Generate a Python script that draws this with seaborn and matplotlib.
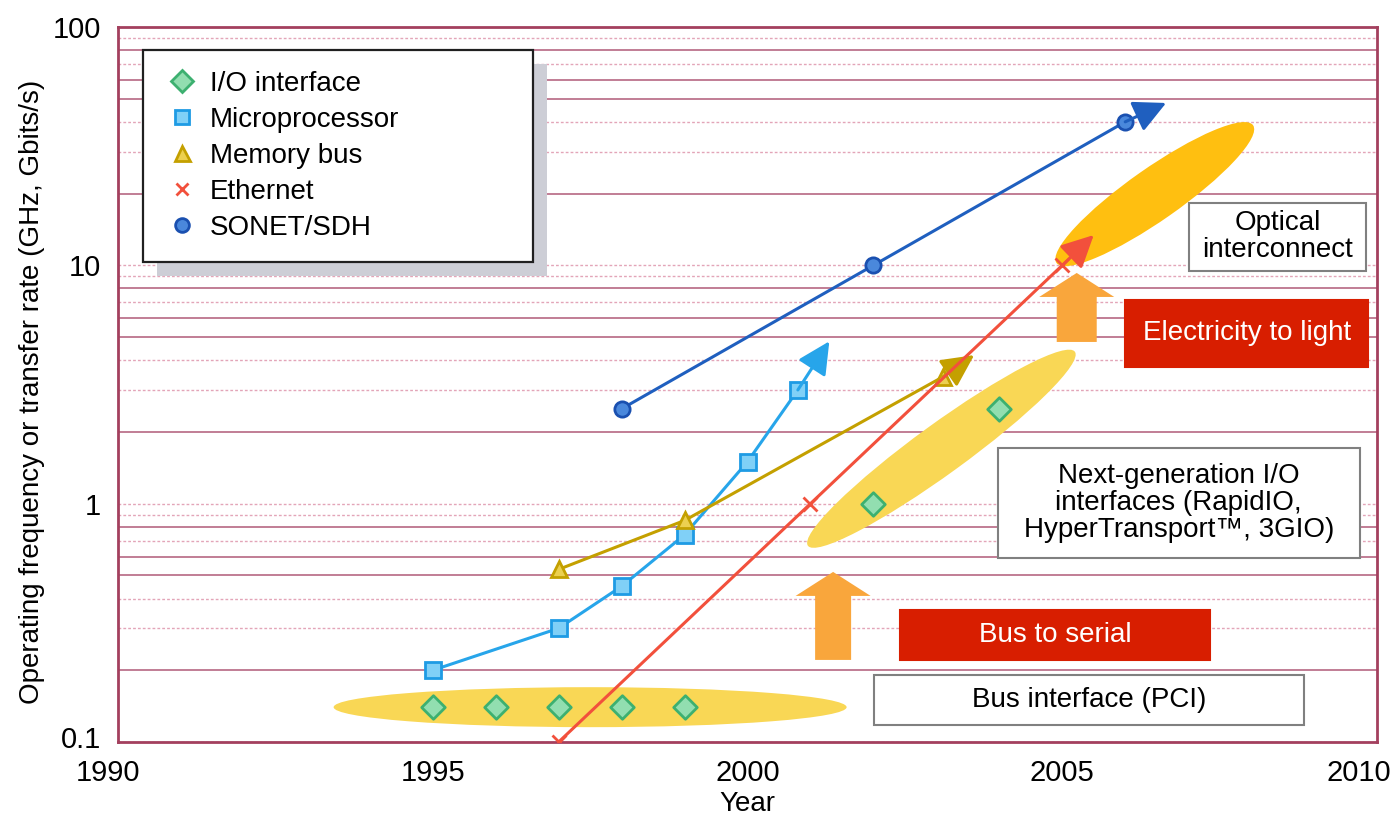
import pandas as pd
import seaborn as sns
import matplotlib.pyplot as plt
import matplotlib.transforms as mtransforms
from matplotlib.patches import Ellipse, Rectangle, FancyArrow
from matplotlib.lines import Line2D

sns.set_style("white")
plt.rcParams["font.family"] = ["Liberation Sans", "DejaVu Sans"]
plt.rcParams["text.color"] = "black"
plt.rcParams["axes.labelcolor"] = "black"

# ---- values ----
io_year = [1995, 1996, 1997, 1998, 1999, 2002, 2004]
io_rate = [0.14, 0.14, 0.14, 0.14, 0.14, 1.0, 2.5]

cpu_year = [1995, 1997, 1998, 1999, 2000, 2000.8]
cpu_rate = [0.2, 0.3, 0.45, 0.74, 1.5, 3.0]

mem_year = [1997, 1999, 2003.1]
mem_rate = [0.53, 0.85, 3.4]

eth_year = [1997, 2001, 2005]
eth_rate = [0.1, 1.0, 10.0]

sonet_year = [1998, 2002, 2006]
sonet_rate = [2.5, 10.0, 40.0]

# end points of the trend arrows
tip_year = {"Microprocessor": 2001.3, "Memory bus": 2003.6, "Ethernet": 2005.5, "SONET/SDH": 2006.65}
tip_rate = {"Microprocessor": 4.8, "Memory bus": 4.2, "Ethernet": 13.4, "SONET/SDH": 48.0}

lines = pd.concat([
    pd.DataFrame({"year": cpu_year, "rate": cpu_rate, "series": "Microprocessor"}),
    pd.DataFrame({"year": mem_year, "rate": mem_rate, "series": "Memory bus"}),
    pd.DataFrame({"year": eth_year, "rate": eth_rate, "series": "Ethernet"}),
    pd.DataFrame({"year": sonet_year, "rate": sonet_rate, "series": "SONET/SDH"}),
])

style = {
    "I/O interface": dict(color="#3db070", marker="D", mfc="#92deb0", mec="#3db070", ms=12),
    "Microprocessor": dict(color="#27a5ea", marker="s", mfc="#80d0f7", mec="#1e9be4", ms=11),
    "Memory bus": dict(color="#c4a000", marker="^", mfc="#ecd050", mec="#c4a000", ms=12),
    "Ethernet": dict(color="#f2503c", marker="x", mfc="#f2503c", mec="#f2503c", ms=10),
    "SONET/SDH": dict(color="#1f5fbf", marker="o", mfc="#4a88dc", mec="#1a50b0", ms=11),
}

fig = plt.figure(figsize=(13.96, 8.17), dpi=100)
ax = fig.add_axes([118 / 1396, 1 - 742 / 817, 1259 / 1396, 715 / 817])
ax.set_yscale("log")
ax.set_xlim(1990, 2010)
ax.set_ylim(0.1, 100)

# horizontal grid, mixed solid / dotted like the original
for dec in [0.1, 1, 10]:
    for m in range(1, 10):
        if m in (2, 5, 6, 8):
            ax.axhline(dec * m, color="#b05a78", lw=1.1, zorder=0.5)
        else:
            ax.axhline(dec * m, color="#e3a5b8", lw=1.0, ls=(0, (2, 1.5)), zorder=0.5)


def at(x, y):
    # inch-based transform anchored on a data point
    return fig.dpi_scale_trans + mtransforms.ScaledTranslation(x, y, ax.transData)


# yellow highlight ellipses
ax.add_patch(Ellipse((0, 0), 5.13, 0.40, angle=0, transform=at(1997.5, 0.14),
                     color="#f9d755", zorder=1.5, lw=0))
ax.add_patch(Ellipse((0, 0), 3.30, 0.50, angle=36, transform=at(2003.08, 1.70),
                     color="#f9d755", zorder=1.5, lw=0))
ax.add_patch(Ellipse((0, 0), 2.40, 0.52, angle=35, transform=at(2006.47, 19.9),
                     color="#ffbf10", zorder=1.5, lw=0))

# orange "step" arrows
ax.add_patch(FancyArrow(0, 0, 0, 0.88, width=0.36, head_width=0.75, head_length=0.24,
                        length_includes_head=True, transform=at(2001.36, 0.221),
                        color="#f9a63c", lw=0, zorder=2))
ax.add_patch(FancyArrow(0, 0, 0, 0.69, width=0.40, head_width=0.75, head_length=0.24,
                        length_includes_head=True, transform=at(2005.23, 4.77),
                        color="#f9a63c", lw=0, zorder=2))

# series lines with trend arrows
for name, grp in lines.groupby("series", sort=False):
    st = style[name]
    sns.lineplot(data=grp, x="year", y="rate", ax=ax, color=st["color"], lw=2.2,
                 marker=st["marker"], markersize=st["ms"], markerfacecolor=st["mfc"],
                 markeredgecolor=st["mec"], markeredgewidth=2, legend=False, zorder=3)
    ax.annotate("", xy=(tip_year[name], tip_rate[name]),
                xytext=(grp["year"].iloc[-1], grp["rate"].iloc[-1]),
                arrowprops=dict(arrowstyle="-|>,head_length=0.9,head_width=0.45",
                                color=st["color"], lw=2.2, shrinkA=0, shrinkB=0,
                                mutation_scale=22), zorder=3)

st = style["I/O interface"]
sns.scatterplot(x=io_year, y=io_rate, ax=ax, marker="D", s=st["ms"] ** 2,
                color=st["mfc"], edgecolor=st["mec"], linewidth=2, zorder=4, legend=False)


# annotation boxes
def box(x, y, w, h, text, face, edge, tcolor):
    ax.add_patch(Rectangle((-w / 2, -h / 2), w, h, transform=at(x, y), facecolor=face,
                           edgecolor=edge, lw=1.5, zorder=3.5))
    ax.text(x, y, text, ha="center", va="center", color=tcolor, fontsize=20,
            linespacing=1.05, zorder=3.6)


box(2008.42, 13.2, 1.77, 0.68, "Optical\ninterconnect", "white", "#808080", "black")
box(2007.93, 5.18, 2.43, 0.67, "Electricity to light", "#d81e00", "#d81e00", "white")
box(2006.85, 1.01, 3.62, 1.10, "Next-generation I/O\ninterfaces (RapidIO,\nHyperTransport™, 3GIO)",
    "white", "#808080", "black")
box(2004.89, 0.281, 3.10, 0.50, "Bus to serial", "#d81e00", "#d81e00", "white")
box(2005.42, 0.150, 4.30, 0.50, "Bus interface (PCI)", "white", "#808080", "black")

# legend
order = ["I/O interface", "Microprocessor", "Memory bus", "Ethernet", "SONET/SDH"]
handles = [Line2D([], [], ls="none", marker=style[n]["marker"], markersize=style[n]["ms"] * 0.9,
                  markerfacecolor=style[n]["mfc"], markeredgecolor=style[n]["mec"],
                  markeredgewidth=2) for n in order]
leg = ax.legend(handles, order, loc="upper left", bbox_to_anchor=(0.0199, 0.0, 0.3097, 0.9678),
                mode="expand", borderaxespad=0, fontsize=20, frameon=True, fancybox=False,
                framealpha=1, edgecolor="#202020", labelspacing=0.36, borderpad=0.75,
                handlelength=1.3, handletextpad=0.36)
leg.get_frame().set_linewidth(1.6)
leg.set_zorder(6)

# axes styling
ax.set_xticks([1990, 1995, 2000, 2005, 2010])
ax.set_xticklabels(["1990", "1995", "2000", "2005", "2010"])
ax.set_yticks([0.1, 1, 10, 100])
ax.set_yticklabels(["0.1", "1", "10", "100"])
ax.yaxis.set_minor_locator(plt.NullLocator())
ax.tick_params(axis="both", length=0, labelsize=21, colors="black")
ax.tick_params(axis="y", pad=12)
ax.tick_params(axis="x", pad=12)
for sp in ax.spines.values():
    sp.set_color("#a3405e")
    sp.set_linewidth(2)
ax.set_xlabel("Year", fontsize=20)
ax.set_ylabel("Operating frequency or transfer rate (GHz, Gbits/s)", fontsize=20)
ax.xaxis.set_label_coords(0.5, -0.068)
ax.yaxis.set_label_coords(-0.058, 0.49)

# nudge the edge labels so they sit like the original
xt = ax.get_xticklabels()
xt[0].set_transform(xt[0].get_transform() + mtransforms.ScaledTranslation(-0.10, 0, fig.dpi_scale_trans))
xt[-1].set_transform(xt[-1].get_transform() + mtransforms.ScaledTranslation(-0.18, 0, fig.dpi_scale_trans))
yt = ax.get_yticklabels()
yt[0].set_transform(yt[0].get_transform() + mtransforms.ScaledTranslation(0, 0.05, fig.dpi_scale_trans))

# grey drop shadow behind the legend
fig.canvas.draw()
bb = leg.get_window_extent().transformed(ax.transAxes.inverted())
dx, dy = 14 / 1259, 14 / 715
ax.add_patch(Rectangle((bb.x0 + dx, bb.y0 - dy), bb.width, bb.height, transform=ax.transAxes,
                       facecolor="#cdced6", edgecolor="none", zorder=5.5))

fig.savefig("out.png", dpi=100)
